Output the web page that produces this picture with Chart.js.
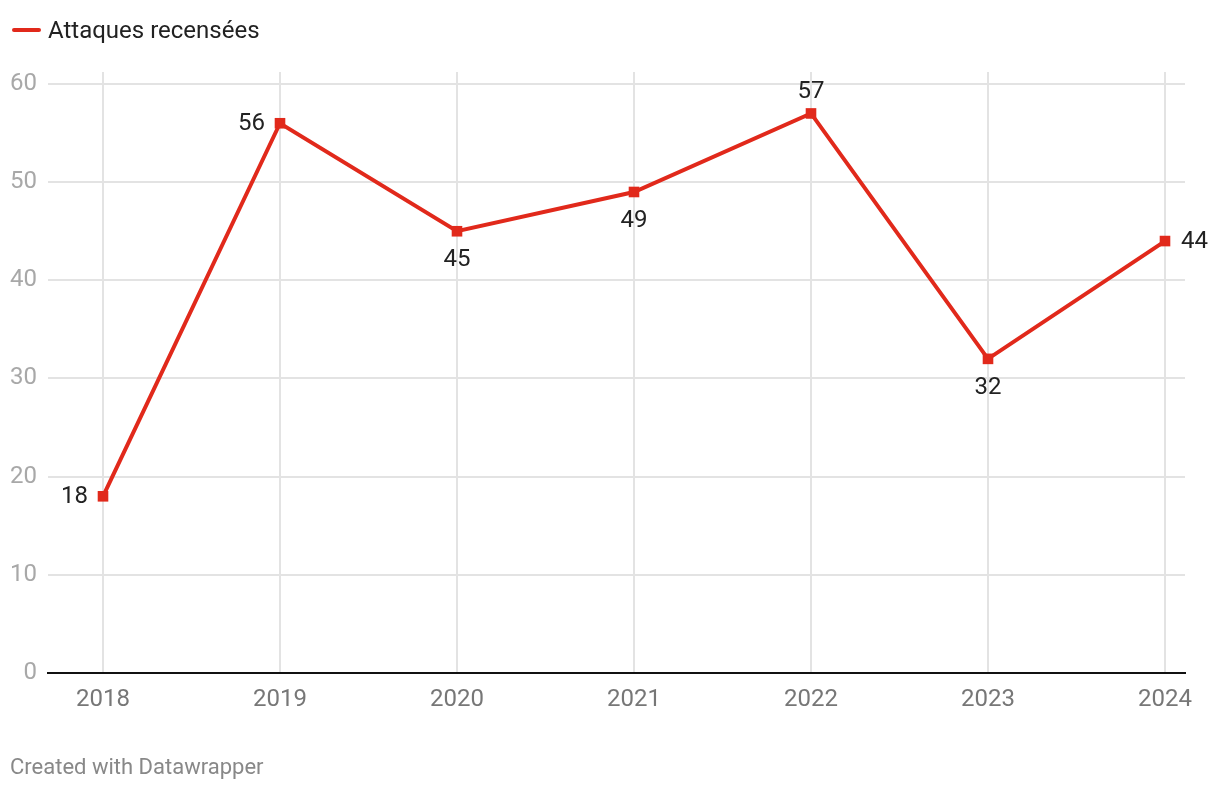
<!DOCTYPE html>
<html>
<head>
<meta charset="utf-8">
<script src="https://cdn.jsdelivr.net/npm/chart.js@4"></script>
<style>
  html, body { margin: 0; padding: 0; background: #fff; }
  body { width: 1220px; height: 790px; position: relative; overflow: hidden; font-family: Roboto, sans-serif; }
  #wrap { position: absolute; left: 0; top: 0; width: 1220px; height: 790px; }
  .legend { position: absolute; left: 12px; top: 16px; font-size: 24px; line-height: 28px; color: #222; display: flex; align-items: center; }
  .legend .swatch { width: 29px; height: 4px; background: #e1291b; border-radius: 2px; margin-right: 7px; }
  .footer { position: absolute; left: 10px; top: 753px; font-size: 22px; line-height: 28px; color: #888; }
</style>
</head>
<body>
<div id="wrap"><canvas id="lineChart" width="1220" height="790"></canvas></div>
<div class="legend"><span class="swatch"></span>Attaques recensées</div>
<div class="footer">Created with Datawrapper</div>
<script>
/* global Chart */
const years = [2018, 2019, 2020, 2021, 2022, 2023, 2024]
const attacks = [18, 56, 45, 49, 57, 32, 44]
const yTicks = [0, 10, 20, 30, 40, 50, 60]
// where each value label sits relative to its point
const labelSide = ['left', 'left', 'below', 'below', 'above', 'below', 'right']

const red = '#e1291b'

const valueLabels = {
  id: 'valueLabels',
  afterDatasetsDraw (chart) {
    const { ctx } = chart
    const meta = chart.getDatasetMeta(0)
    ctx.save()
    ctx.font = '24px Roboto, sans-serif'
    ctx.fillStyle = '#222'
    meta.data.forEach((pt, i) => {
      const side = labelSide[i]
      let x = pt.x
      let y = pt.y + 1
      ctx.textAlign = 'center'
      ctx.textBaseline = 'middle'
      if (side === 'left') { x -= 15; ctx.textAlign = 'right' }
      if (side === 'right') { x += 16; ctx.textAlign = 'left' }
      if (side === 'below') y += 28
      if (side === 'above') y -= 22
      ctx.fillText(String(attacks[i]), x, y)
    })
    ctx.restore()
  }
}

const ctx = document.getElementById('lineChart').getContext('2d')

new Chart(ctx, {
  type: 'line',
  data: {
    datasets: [
      {
        label: 'Attaques recensées',
        data: years.map((y, i) => ({ x: y, y: attacks[i] })),
        borderColor: red,
        backgroundColor: red,
        borderWidth: 4,
        pointStyle: 'rect',
        pointRadius: 7.5,
        pointBorderWidth: 0,
        pointBackgroundColor: red,
        tension: 0
      }
    ]
  },
  options: {
    responsive: false,
    animation: false,
    layout: {
      padding: { top: 72, right: 35, bottom: 67, left: 0 }
    },
    plugins: {
      legend: { display: false },
      tooltip: { enabled: false }
    },
    scales: {
      x: {
        type: 'linear',
        min: 2018 - 55 / 177,
        max: 2024 + 20 / 177,
        afterBuildTicks: (scale) => { scale.ticks = years.map(v => ({ value: v })) },
        afterFit: (scale) => { scale.height = 50 },
        grid: { color: '#e3e3e3', lineWidth: 2, drawTicks: false },
        border: { display: true, color: '#111', width: 2 },
        ticks: {
          padding: 13,
          color: '#777',
          font: { family: 'Roboto', size: 24 },
          callback: (v) => String(v),
          maxRotation: 0
        }
      },
      y: {
        min: 0,
        max: 60 + 12 / 9.82,
        afterBuildTicks: (scale) => { scale.ticks = yTicks.map(v => ({ value: v })) },
        afterFit: (scale) => { scale.width = 48 },
        grid: { color: '#e3e3e3', lineWidth: 2, drawTicks: false },
        border: { display: false },
        ticks: {
          padding: 11,
          color: '#a8a8a8',
          font: { family: 'Roboto', size: 24 }
        }
      }
    }
  },
  plugins: [valueLabels]
})
</script>
</body>
</html>
